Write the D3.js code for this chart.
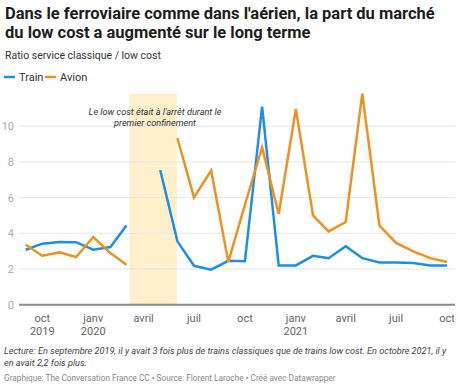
<!DOCTYPE html>
<html>
<head>
<meta charset="utf-8">
<script src="https://cdn.jsdelivr.net/npm/d3@7"></script>
<style>
  body { margin: 0; background: #fff; font-family: Roboto, "Noto Sans", sans-serif; }
  svg text { font-family: Roboto, "Noto Sans", sans-serif; }
</style>
</head>
<body>
<div id="chart"></div>
<script>
// monthly data, sept 2019 -> oct 2021
var months = ["2019-09","2019-10","2019-11","2019-12","2020-01","2020-02","2020-03","2020-04","2020-05","2020-06","2020-07","2020-08","2020-09","2020-10","2020-11","2020-12","2021-01","2021-02","2021-03","2021-04","2021-05","2021-06","2021-07","2021-08","2021-09","2021-10"]
var train = [3.08, 3.42, 3.51, 3.5, 3.08, 3.23, 4.43, null, 7.55, 3.55, 2.18, 1.96, 2.46, 2.43, 11.1, 2.2, 2.2, 2.74, 2.6, 3.27, 2.61, 2.37, 2.37, 2.33, 2.2, 2.2]
var avion = [3.36, 2.74, 2.93, 2.67, 3.79, 2.9, 2.24, null, null, 9.34, 6.01, 7.52, 2.4, 5.6, 8.81, 5.08, 10.96, 5.0, 4.11, 4.63, 11.82, 4.43, 3.46, 2.99, 2.61, 2.39]

var yTicks = [0, 2, 4, 6, 8, 10]
var xTicks = ["2019-10","2020-01","2020-04","2020-07","2020-10","2021-01","2021-04","2021-07","2021-10"]
var xTickLabels = [["oct","2019"],["janv","2020"],["avril"],["juil"],["oct"],["janv","2021"],["avril"],["juil"],["oct"]]
var confinement = ["2020-03-06", "2020-05-31"]

var parseMonth = d3.timeParse("%Y-%m")
var parseDay = d3.timeParse("%Y-%m-%d")

var width = 460, height = 385
var svg = d3.select("#chart").append("svg")
    .attr("width", width)
    .attr("height", height)

// shrink a text's font so it spans about w pixels
var fitText = function(sel, w) {
  var fs = parseFloat(sel.style("font-size"))
  var len = sel.node().getComputedTextLength()
  sel.style("font-size", (fs * w / len).toFixed(2) + "px")
  return sel
}

// title block
var t1 = svg.append("text")
    .attr("x", 5).attr("y", 19)
    .style("font-size", "18px").style("font-weight", "700").attr("fill", "#1d1d1d")
    .text("Dans le ferroviaire comme dans l'aérien, la part du marché")
fitText(t1, 430)
var t2 = svg.append("text")
    .attr("x", 5).attr("y", 38)
    .style("font-size", t1.style("font-size")).style("font-weight", "700").attr("fill", "#1d1d1d")
    .text("du low cost a augmenté sur le long terme")
var st = svg.append("text")
    .attr("x", 5).attr("y", 59)
    .style("font-size", "12.5px").attr("fill", "#333")
    .text("Ratio service classique / low cost")
fitText(st, 156)

var x = d3.scaleTime()
    .domain([parseMonth(months[0]), parseMonth(months[months.length - 1])])
    .range([25.7, 447])

var y = d3.scaleLinear()
    .domain([0, 12])
    .range([304.7, 90.5])

// legend
var legend = [{name: "Train", color: "#1e8fe1"}, {name: "Avion", color: "#eb9222"}]
var lg = svg.selectAll(".legend").data(legend).enter().append("g")
    .attr("transform", function(d, i) { return "translate(" + (4 + i * 41) + ",77)" })
lg.append("line").attr("x1", 0).attr("x2", 11).attr("y1", 0).attr("y2", 0)
    .attr("stroke", function(d) { return d.color }).attr("stroke-width", 2.5)
lg.append("text").attr("x", 15).attr("y", 4)
    .style("font-size", "11px").attr("fill", "#333")
    .text(function(d) { return d.name })

// confinement band
svg.append("rect")
    .attr("x", x(parseDay(confinement[0])))
    .attr("width", x(parseDay(confinement[1])) - x(parseDay(confinement[0])))
    .attr("y", 94)
    .attr("height", y(0) - 94)
    .attr("fill", "#fdf0cb")

// grid + y labels
svg.selectAll(".grid").data(yTicks.filter(function(d) { return d > 0 })).enter().append("line")
    .attr("x1", 19).attr("x2", 455)
    .attr("y1", function(d) { return y(d) }).attr("y2", function(d) { return y(d) })
    .attr("stroke", "#e6e6e6").attr("stroke-width", 1)

svg.selectAll(".ylab").data(yTicks).enter().append("text")
    .attr("x", 14).attr("y", function(d) { return y(d) + 4 })
    .attr("text-anchor", "end")
    .style("font-size", "11px").attr("fill", "#aaa")
    .text(function(d) { return d })

// baseline
svg.append("line")
    .attr("x1", 19).attr("x2", 455)
    .attr("y1", y(0)).attr("y2", y(0))
    .attr("stroke", "#8a8a8a").attr("stroke-width", 2)

// x labels
var xl = svg.selectAll(".xlab").data(xTicks).enter().append("text")
    .attr("x", function(d) { return x(parseMonth(d)) })
    .attr("y", 322)
    .attr("text-anchor", "middle")
    .style("font-size", "11px").attr("fill", "#666")
xl.selectAll("tspan").data(function(d, i) { return xTickLabels[i] }).enter().append("tspan")
    .attr("x", function() { return d3.select(this.parentNode).attr("x") })
    .attr("dy", function(d, i) { return i == 0 ? 0 : 13 })
    .text(function(d) { return d })

// lines
var line = d3.line()
    .defined(function(d) { return d.v != null })
    .x(function(d) { return x(d.date) })
    .y(function(d) { return y(d.v) })

var series = [
  {color: "#1e8fe1", values: train},
  {color: "#eb9222", values: avion}
]
series.forEach(function(s) {
  var pts = months.map(function(m, i) { return {date: parseMonth(m), v: s.values[i]} })
  svg.append("path")
      .datum(pts)
      .attr("d", line)
      .attr("fill", "none")
      .attr("stroke", s.color)
      .attr("stroke-width", 2.5)
      .attr("stroke-linejoin", "miter")
})

// annotation
var a1 = svg.append("text")
    .attr("x", 155).attr("y", 115)
    .attr("text-anchor", "middle")
    .style("font-size", "10.5px").style("font-style", "italic").attr("fill", "#333")
    .text("Le low cost était à l'arrêt durant le")
fitText(a1, 133)
svg.append("text")
    .attr("x", 155).attr("y", 126)
    .attr("text-anchor", "middle")
    .style("font-size", a1.style("font-size")).style("font-style", "italic").attr("fill", "#333")
    .text("premier confinement")

// notes
var n1 = svg.append("text")
    .attr("x", 4).attr("y", 354)
    .style("font-size", "10.5px").style("font-style", "italic").attr("fill", "#444")
    .text("Lecture: En septembre 2019, il y avait 3 fois plus de trains classiques que de trains low cost. En octobre 2021, il y")
fitText(n1, 443)
svg.append("text")
    .attr("x", 4).attr("y", 366)
    .style("font-size", n1.style("font-size")).style("font-style", "italic").attr("fill", "#444")
    .text("en avait 2,2 fois plus.")
var f1 = svg.append("text")
    .attr("x", 4).attr("y", 381)
    .style("font-size", "9.5px").attr("fill", "#888")
    .text("Graphique: The Conversation France CC • Source: Florent Laroche • Créé avec Datawrapper")
fitText(f1, 332)
</script>
</body>
</html>
